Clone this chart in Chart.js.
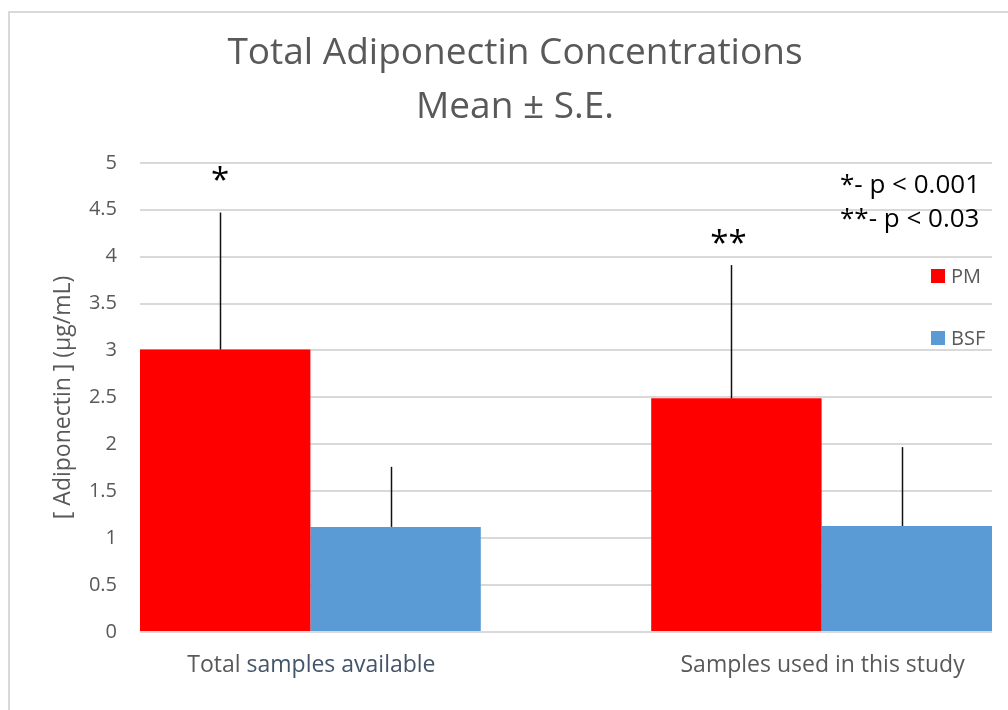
<!DOCTYPE html>
<html>
<head>
<meta charset="utf-8">
<title>Total Adiponectin Concentrations</title>
<script src="https://cdn.jsdelivr.net/npm/chart.js@4.4.1/dist/chart.umd.min.js"></script>
<style>
  html, body { margin: 0; padding: 0; background: #fff; }
  #wrap { position: relative; width: 1008px; height: 710px; }
</style>
</head>
<body>
<div id="wrap"><canvas id="chart"></canvas></div>
<script>
/* ── Data ── */
const categories = ['Total samples available', 'Samples used in this study'];
const seriesNames = ['PM', 'BSF'];
const pmMean   = [3.01, 2.49];
const pmSE     = [1.46, 1.42];
const bsfMean  = [1.12, 1.13];
const bsfSE    = [0.64, 0.84];
const yTicks   = [0, 0.5, 1, 1.5, 2, 2.5, 3, 3.5, 4, 4.5, 5];
const sigMarks = ['*', '**'];
const pNotes   = ['*- p < 0.001', '**- p < 0.03'];

/* ── Style ── */
const FONT  = '"Open Sans", "DejaVu Sans", sans-serif';
const GRAY  = '#595959';
const SLATE = '#44546a';
const GRID  = '#d9d9d9';
const COLORS = ['#ff0000', '#5b9bd5'];

const means = [pmMean, bsfMean];
const errs  = [pmSE, bsfSE];

/* ── Plugins ── */
const frame = {
  id: 'frame',
  beforeDraw(chart) {
    const ctx = chart.ctx;
    ctx.save();
    ctx.fillStyle = '#fff';
    ctx.fillRect(0, 0, chart.width, chart.height);
    ctx.fillStyle = GRID;
    ctx.fillRect(8, 11, chart.width - 8, 2);
    ctx.fillRect(8, 11, 2, chart.height - 11);
    ctx.restore();
  }
};

// only the upper whisker is shown, as in the original
const errorBars = {
  id: 'errorBars',
  afterDatasetsDraw(chart) {
    const ctx = chart.ctx;
    const ys  = chart.scales.y;
    ctx.save();
    ctx.strokeStyle = '#111';
    ctx.lineWidth   = 1.5;
    chart.data.datasets.forEach((ds, i) => {
      chart.getDatasetMeta(i).data.forEach((bar, j) => {
        const x = Math.round(bar.x - 5) + 0.5;
        ctx.beginPath();
        ctx.moveTo(x, bar.y);
        ctx.lineTo(x, ys.getPixelForValue(means[i][j] + errs[i][j]));
        ctx.stroke();
      });
    });
    ctx.restore();
  }
};

const annotations = {
  id: 'annotations',
  afterDraw(chart) {
    const ctx = chart.ctx;
    const xs  = chart.scales.x;
    const ys  = chart.scales.y;
    const area = chart.chartArea;
    ctx.save();

    // category labels ("Total" is grey, the rest slate in the source)
    ctx.font = '23px ' + FONT;
    ctx.textBaseline = 'middle';
    ctx.textAlign = 'left';
    categories.forEach((c, i) => {
      const cx = xs.getPixelForValue(i + 1);
      const w  = ctx.measureText(c).width;
      let x = cx - w / 2 + 1;
      const y = area.bottom + 33;
      if (i === 0) {
        const head = 'Total ';
        ctx.fillStyle = GRAY;
        ctx.fillText(head, x, y);
        x += ctx.measureText(head).width;
        ctx.fillStyle = SLATE;
        ctx.fillText(c.slice(head.length), x, y);
      } else {
        ctx.fillStyle = GRAY;
        ctx.fillText(c, x, y);
      }
    });

    // significance marks above the PM bars
    const pmMeta = chart.getDatasetMeta(0);
    ctx.font = '33px ' + FONT;
    ctx.fillStyle = '#000';
    ctx.textAlign = 'center';
    ctx.fillText(sigMarks[0], pmMeta.data[0].x - 5, ys.getPixelForValue(4.8));
    ctx.fillText(sigMarks[1], pmMeta.data[1].x - 8, ys.getPixelForValue(4.13));

    // p-value notes
    ctx.font = '26px ' + FONT;
    ctx.textAlign = 'left';
    ctx.textBaseline = 'alphabetic';
    pNotes.forEach((t, i) => ctx.fillText(t, 840, 193 + i * 34));

    // legend
    ctx.font = '20px ' + FONT;
    ctx.textBaseline = 'middle';
    seriesNames.forEach((n, i) => {
      const y = 276 + i * 62;
      ctx.fillStyle = COLORS[i];
      ctx.fillRect(931, y - 7, 14, 14);
      ctx.fillStyle = GRAY;
      ctx.fillText(n, 951, y + 1);
    });

    ctx.restore();
  }
};

/* ── Chart ── */
new Chart(document.getElementById('chart'), {
  type: 'bar',
  data: {
    datasets: seriesNames.map((name, i) => ({
      label:           name,
      data:            means[i].map((v, j) => ({ x: j + 1, y: v })),
      backgroundColor: COLORS[i],
      borderWidth:     0,
      categoryPercentage: 2 / 3,
      barPercentage:   1,
    })),
  },
  options: {
    responsive: true,
    maintainAspectRatio: false,
    animation: false,
    layout: { padding: { left: 38, right: 16, top: 0, bottom: 70 } },
    plugins: {
      legend:  { display: false },
      tooltip: { enabled: false },
      title: {
        display: true,
        text:    ['Total Adiponectin Concentrations', 'Mean ± S.E.'],
        color:   GRAY,
        font:    { family: FONT, size: 37, weight: 'normal', lineHeight: 53.4 / 37 },
        padding: { top: 27, bottom: 29 },
      },
    },
    scales: {
      x: {
        type:   'linear',
        offset: false,
        min:    2 / 3,
        max:    7 / 3,
        afterBuildTicks: s => { s.ticks = categories.map((c, i) => ({ value: i + 1 })); },
        grid:   { display: false },
        border: { display: false },
        ticks:  { display: false },
      },
      y: {
        min: 0,
        max: 5,
        afterBuildTicks: s => { s.ticks = yTicks.map(v => ({ value: v })); },
        afterFit: s => { s.width = 102; },
        grid:   { color: GRID, lineWidth: 2, drawTicks: false },
        border: { display: false },
        ticks:  {
          color:    GRAY,
          padding:  23,
          font:     { family: FONT, size: 20 },
          callback: v => String(v),
        },
        title: {
          display: true,
          text:    '[ Adiponectin ] (µg/mL)',
          color:   GRAY,
          font:    { family: FONT, size: 23 },
          padding: { top: 12, bottom: 0 },
        },
      },
    },
  },
  plugins: [frame, errorBars, annotations],
});
</script>
</body>
</html>
